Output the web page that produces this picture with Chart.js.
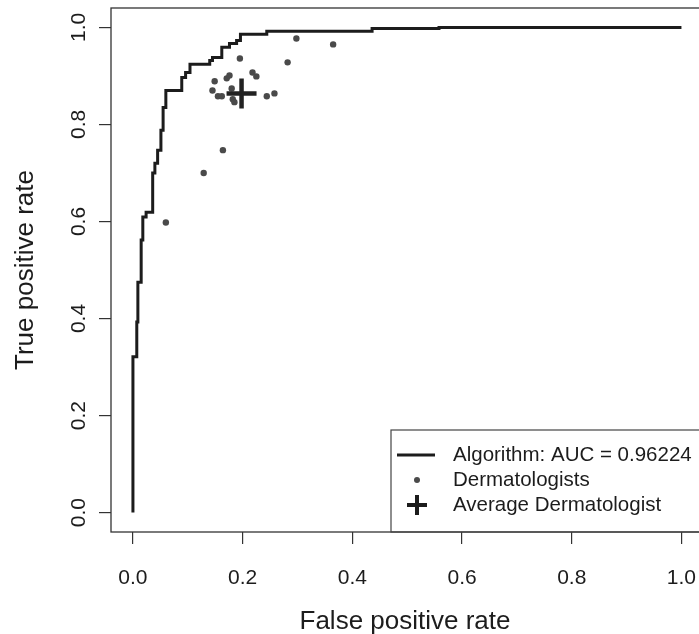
<!DOCTYPE html>
<html>
<head>
<meta charset="utf-8">
<title>ROC</title>
<script src="https://cdn.jsdelivr.net/npm/chart.js@4.4.1/dist/chart.umd.min.js"></script>
<style>
    html, body { margin: 0; padding: 0; background: #fff; overflow: hidden; }
    #wrap { width: 699px; height: 634px; }
</style>
</head>
<body>
<div id="wrap"><canvas id="roc" width="699" height="634"></canvas></div>
<script>
// ROC curve corners (false positive rate / true positive rate)
const rocFpr = [0, 0, 0.007, 0.007, 0.009, 0.009, 0.015, 0.015, 0.018, 0.018, 0.024, 0.024, 0.036, 0.036,
    0.040, 0.040, 0.045, 0.045, 0.051, 0.051, 0.055, 0.055, 0.060, 0.060, 0.089, 0.089, 0.096, 0.096,
    0.104, 0.104, 0.140, 0.140, 0.145, 0.145, 0.162, 0.162, 0.176, 0.176, 0.189, 0.189, 0.196, 0.196,
    0.244, 0.244, 0.436, 0.436, 0.558, 0.558, 1.0];
const rocTpr = [0, 0.321, 0.321, 0.393, 0.393, 0.475, 0.475, 0.562, 0.562, 0.609, 0.609, 0.619, 0.619, 0.700,
    0.700, 0.720, 0.720, 0.747, 0.747, 0.788, 0.788, 0.835, 0.835, 0.870, 0.870, 0.897, 0.897, 0.907,
    0.907, 0.924, 0.924, 0.932, 0.932, 0.938, 0.938, 0.959, 0.959, 0.967, 0.967, 0.973, 0.973, 0.986,
    0.986, 0.992, 0.992, 0.998, 0.998, 1.0, 1.0];

// individual dermatologists
const dermFpr = [0.195, 0.298, 0.365, 0.282, 0.149, 0.171, 0.176, 0.218, 0.225, 0.145,
    0.155, 0.162, 0.180, 0.182, 0.185, 0.244, 0.258, 0.164, 0.129, 0.060];
const dermTpr = [0.936, 0.977, 0.965, 0.928, 0.889, 0.895, 0.901, 0.907, 0.899, 0.870,
    0.858, 0.858, 0.874, 0.852, 0.846, 0.858, 0.864, 0.747, 0.700, 0.598];

// average dermatologist
const avgFpr = [0.198];
const avgTpr = [0.864];

const tickValues = [0, 0.2, 0.4, 0.6, 0.8, 1.0];
const seriesLabels = ['Algorithm: AUC = 0.96224', 'Dermatologists', 'Average Dermatologist'];

const FONT = '"Liberation Sans", Arial, Helvetica, sans-serif';
const INK = '#1c1c1c';
const DOT = '#4a4a4a';

const toPoints = (xs, ys) => xs.map((x, i) => ({ x: x, y: ys[i] }));
const fixTicks = scale => { scale.ticks = tickValues.map(v => ({ value: v })); };
const noPadding = scale => {
    scale.paddingTop = 0;
    scale.paddingBottom = 0;
    scale.paddingLeft = 0;
    scale.paddingRight = 0;
};

/**
 * Frame, rotated y tick labels (R style) and the legend box
 */
const rStylePlugin = {
    id: 'rStyle',
    afterDraw(chart) {
        const { ctx, chartArea: a, scales } = chart;
        ctx.save();

        // plot frame (right side runs off the page, as in the reference)
        ctx.strokeStyle = '#333';
        ctx.lineWidth = 1.3;
        ctx.strokeRect(a.left, a.top, a.right - a.left + 20, a.bottom - a.top);

        // y tick labels, reading bottom to top
        const y = scales.y;
        ctx.fillStyle = INK;
        ctx.font = '21px ' + FONT;
        ctx.textAlign = 'center';
        ctx.textBaseline = 'alphabetic';
        y.ticks.forEach((t, i) => {
            ctx.save();
            ctx.translate(a.left - 26, y.getPixelForTick(i));
            ctx.rotate(-Math.PI / 2);
            ctx.fillText(t.value.toFixed(1), 0, 0);
            ctx.restore();
        });

        // legend
        const bx = a.left + 280;
        const by = a.bottom - 102;
        ctx.strokeStyle = '#444';
        ctx.lineWidth = 1.2;
        ctx.strokeRect(bx, by, 400, 102);

        const rows = [by + 25, by + 50, by + 75];
        const sx = bx + 26;
        ctx.strokeStyle = INK;
        ctx.lineWidth = 3;
        ctx.beginPath();
        ctx.moveTo(bx + 6, rows[0]);
        ctx.lineTo(bx + 44, rows[0]);
        ctx.stroke();

        ctx.fillStyle = DOT;
        ctx.beginPath();
        ctx.arc(sx, rows[1], 3, 0, Math.PI * 2);
        ctx.fill();

        ctx.lineWidth = 4;
        ctx.beginPath();
        ctx.moveTo(sx - 10, rows[2]); ctx.lineTo(sx + 10, rows[2]);
        ctx.moveTo(sx, rows[2] - 10); ctx.lineTo(sx, rows[2] + 10);
        ctx.stroke();

        ctx.fillStyle = INK;
        ctx.font = '20.5px ' + FONT;
        ctx.textAlign = 'left';
        ctx.textBaseline = 'middle';
        seriesLabels.forEach((s, i) => ctx.fillText(s, bx + 62, rows[i]));

        ctx.restore();
    }
};

const ctx = document.getElementById('roc').getContext('2d');

const chart = new Chart(ctx, {
    type: 'scatter',
    data: {
        datasets: [
            {
                label: seriesLabels[0],
                data: toPoints(rocFpr, rocTpr),
                showLine: true,
                borderColor: INK,
                borderWidth: 3,
                pointRadius: 0,
                tension: 0,
                order: 3
            },
            {
                label: seriesLabels[1],
                data: toPoints(dermFpr, dermTpr),
                backgroundColor: DOT,
                borderColor: DOT,
                borderWidth: 0,
                pointRadius: 3.2,
                order: 2
            },
            {
                label: seriesLabels[2],
                data: toPoints(avgFpr, avgTpr),
                pointStyle: 'cross',
                pointRadius: 15,
                borderColor: '#222',
                borderWidth: 4.5,
                order: 1
            }
        ]
    },
    options: {
        responsive: false,
        animation: false,
        devicePixelRatio: 1,
        layout: { autoPadding: false, padding: { top: 8, right: 0, bottom: 0, left: 0 } },
        plugins: {
            legend: { display: false },
            tooltip: { enabled: false }
        },
        scales: {
            x: {
                type: 'linear',
                min: -0.04,
                max: 1.032,
                afterBuildTicks: fixTicks,
                afterFit: s => { s.height = 102; noPadding(s); },
                border: { display: false },
                grid: { drawOnChartArea: false, drawTicks: true, tickLength: 12, tickColor: '#333', lineWidth: 1.2 },
                ticks: {
                    color: INK,
                    font: { family: FONT, size: 21 },
                    padding: 22,
                    maxRotation: 0,
                    callback: v => v.toFixed(1)
                },
                title: {
                    display: true,
                    text: 'False positive rate',
                    color: INK,
                    font: { family: FONT, size: 26 },
                    padding: { top: 0, bottom: -3 }
                }
            },
            y: {
                type: 'linear',
                min: -0.04,
                max: 1.04,
                afterBuildTicks: fixTicks,
                afterFit: s => { s.width = 111; noPadding(s); },
                border: { display: false },
                grid: { drawOnChartArea: false, drawTicks: true, tickLength: 12, tickColor: '#333', lineWidth: 1.2 },
                ticks: { display: false },
                title: {
                    display: true,
                    text: 'True positive rate',
                    color: INK,
                    font: { family: FONT, size: 26 },
                    padding: { top: 10, bottom: 0 }
                }
            }
        }
    },
    plugins: [rStylePlugin]
});
</script>
</body>
</html>
